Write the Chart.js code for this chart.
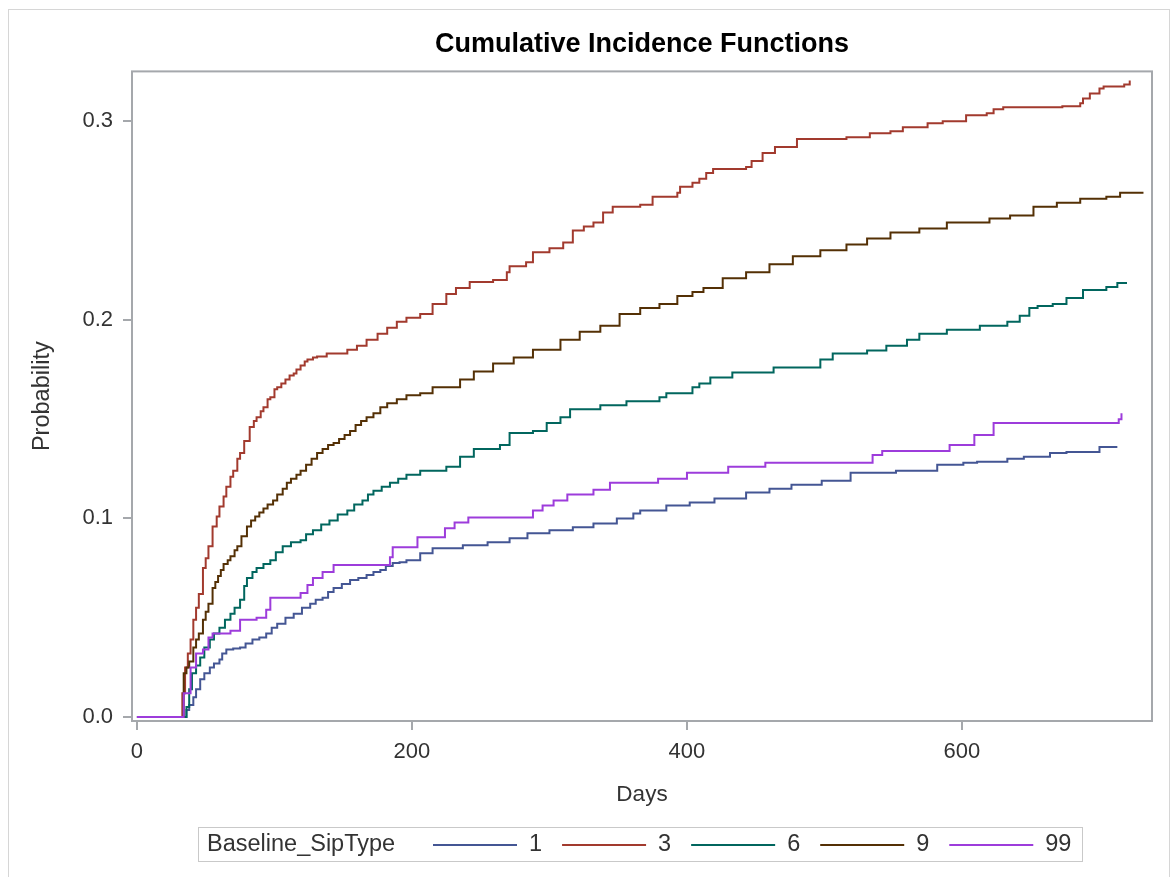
<!DOCTYPE html>
<html>
<head>
<meta charset="utf-8">
<script src="https://cdn.jsdelivr.net/npm/chart.js@4.4.1/dist/chart.umd.min.js"></script>
<style>
  html, body { margin: 0; padding: 0; background: #fff; }
  #wrap { width: 1171px; height: 877px; }
</style>
</head>
<body>
<div id="wrap"><canvas id="cif" width="1171" height="877"></canvas></div>
<script>
// cumulative incidence by Baseline_SipType
const groups = ['1', '3', '6', '9', '99'];
const colors = ['#445694', '#A23A2E', '#01665E', '#543005', '#9D3CDB'];
const xTicks = [0, 200, 400, 600];
const yTicks = [0, 0.1, 0.2, 0.3];

const days1 = [0, 34, 36, 38, 41, 43, 46, 49, 53, 56, 60, 62, 65, 70, 75, 79, 84, 89, 94, 98,
  102, 108, 114, 120, 126, 130, 135, 139, 143, 149, 155, 161, 167, 172, 177, 181, 186, 191, 196, 206,
  215, 237, 255, 271, 284, 300, 317, 332, 349, 361, 366, 385, 402, 420, 443, 460, 476, 498, 519, 552,
  582, 601, 611, 633, 645, 664, 676, 700, 713];
const prob1 = [0, 0, .0035, .006, .010, .014, .019, .022, .025, .027, .029, .032, .034, .0345, .035, .037, .039, .040, .042, .045,
  .047, .050, .052, .055, .057, .059, .060, .063, .065, .067, .069, .070, .0715, .073, .074, .076, .0775, .078, .079, .0825,
  .085, .0865, .088, .090, .0925, .094, .0955, .0975, .100, .1025, .104, .1065, .108, .110, .113, .115, .117, .119, .123, .124,
  .127, .128, .1285, .130, .131, .133, .1335, .136, .136];

const days3 = [0, 31, 33, 35, 37, 39, 41, 43, 45, 48, 50, 52, 55, 58, 60, 63, 65, 68, 70, 73,
  75, 78, 82, 85, 87, 90, 92, 95, 97, 100, 102, 105, 108, 111, 114, 116, 119, 122, 124, 128,
  131, 138, 153, 160, 167, 175, 182, 189, 196, 206, 215, 225, 232, 242, 259, 269, 271, 283, 288, 300,
  310, 317, 325, 332, 339, 346, 366, 375, 393, 395, 404, 409, 414, 419, 443, 447, 455, 464, 473, 480,
  516, 533, 548, 557, 575, 586, 603, 618, 623, 630, 673, 686, 688, 693, 700, 703, 713, 718, 722];
const prob3 = [0, 0, .012, .025, .032, .039, .049, .055, .062, .075, .080, .086, .096, .101, .106, .111, .116, .121, .124, .130,
  .133, .139, .146, .149, .151, .154, .156, .160, .161, .165, .166, .168, .170, .172, .173, .175, .177, .179, .180, .181,
  .1815, .183, .185, .187, .190, .193, .196, .199, .201, .203, .208, .213, .216, .219, .220, .224, .227, .229, .234, .236,
  .239, .245, .247, .249, .254, .257, .258, .262, .264, .267, .269, .271, .274, .276, .277, .280, .284, .287, .287, .291,
  .292, .294, .295, .297, .299, .300, .303, .304, .306, .307, .3075, .309, .3115, .314, .3165, .3175, .3175, .3185, .3205];

const days6 = [0, 34, 36, 38, 40, 43, 46, 49, 53, 56, 60, 64, 68, 71, 75, 78, 80, 84, 87, 92,
  97, 101, 106, 112, 119, 123, 128, 134, 140, 146, 153, 158, 164, 168, 172, 178, 184, 190, 196, 206,
  225, 235, 245, 264, 271, 288, 298, 308, 315, 337, 356, 380, 385, 404, 409, 417, 433, 463, 489, 497,
  506, 531, 545, 560, 569, 589, 613, 633, 642, 649, 655, 666, 676, 688, 703, 705, 713, 720];
const prob6 = [0, 0, .005, .014, .022, .026, .030, .035, .039, .042, .045, .049, .052, .055, .059, .066, .070, .073, .075, .077,
  .079, .083, .086, .088, .089, .092, .094, .097, .099, .102, .104, .107, .109, .112, .114, .116, .118, .120, .122, .124,
  .126, .131, .135, .137, .143, .144, .148, .151, .155, .157, .159, .161, .163, .166, .168, .171, .1735, .176, .176, .180,
  .183, .1845, .187, .190, .193, .195, .197, .199, .202, .206, .207, .208, .211, .215, .215, .2165, .2185, .2185];

const days9 = [0, 31, 34, 36, 38, 41, 43, 45, 48, 50, 52, 55, 57, 59, 61, 63, 66, 68, 71, 73,
  76, 80, 83, 86, 89, 92, 95, 99, 102, 106, 109, 112, 116, 119, 123, 127, 131, 135, 139, 143,
  147, 151, 155, 159, 163, 167, 172, 177, 182, 189, 196, 206, 215, 235, 245, 259, 274, 288, 308, 322,
  337, 351, 366, 380, 393, 404, 412, 426, 443, 460, 477, 497, 516, 531, 548, 569, 589, 606, 620, 635,
  652, 669, 686, 705, 715, 732];
const prob9 = [0, 0, .022, .025, .028, .035, .039, .042, .049, .053, .057, .065, .068, .071, .074, .077, .079, .081, .084, .086,
  .091, .096, .099, .101, .103, .105, .107, .109, .112, .115, .118, .120, .122, .124, .127, .130, .133, .135, .137, .138,
  .140, .142, .144, .147, .149, .151, .153, .156, .158, .160, .162, .163, .166, .170, .174, .178, .181, .185, .190, .194,
  .197, .203, .206, .208, .212, .214, .216, .221, .224, .228, .232, .235, .238, .241, .244, .246, .249, .249, .251, .2525,
  .257, .259, .261, .262, .264, .264];

const days99 = [0, 32, 34, 39, 43, 48, 52, 55, 68, 75, 87, 94, 97, 119, 124, 128, 135, 143, 184, 186,
  204, 224, 231, 241, 288, 295, 303, 313, 332, 344, 379, 400, 430, 457, 535, 542, 591, 609, 623, 714, 716];
const prob99 = [0, 0, .012, .025, .032, .034, .040, .042, .0435, .049, .050, .054, .060, .0625, .0665, .070, .073, .0765, .0805, .0855,
  .0905, .095, .098, .1005, .104, .1065, .109, .112, .1145, .118, .120, .123, .126, .128, .132, .134, .137, .142, .148, .150, .153];

const allDays = [days1, days3, days6, days9, days99];
const allProb = [prob1, prob3, prob6, prob9, prob99];

const FONT = "'Liberation Sans', Arial, sans-serif";
const FRAME = '#a5a8ac';
const legendTitle = 'Baseline_SipType';

const datasets = groups.map((g, i) => ({
  label: g,
  data: allDays[i].map((d, j) => ({ x: d, y: allProb[i][j] })),
  borderColor: colors[i],
  backgroundColor: colors[i],
  borderWidth: 2,
  pointRadius: 0,
  stepped: true,
  fill: false,
  order: groups.length - i
}));

const framePlugin = {
  id: 'frame',
  beforeDraw(chart) {
    const ctx = chart.ctx;
    ctx.save();
    ctx.fillStyle = '#fff';
    ctx.fillRect(0, 0, chart.width, chart.height);
    ctx.strokeStyle = '#d6d6d6';
    ctx.lineWidth = 1;
    ctx.strokeRect(8.5, 9.5, 1161, 900);
    ctx.restore();
  },
  afterDatasetsDraw(chart) {
    const a = chart.chartArea;
    const ctx = chart.ctx;
    ctx.save();
    ctx.strokeStyle = FRAME;
    ctx.lineWidth = 2;
    ctx.strokeRect(a.left, a.top, a.right - a.left, a.bottom - a.top);
    ctx.restore();
  }
};

// SAS style legend: title inline, then line + label per group
const legendPlugin = {
  id: 'sasLegend',
  afterDraw(chart) {
    const ctx = chart.ctx;
    const y = 845;
    ctx.save();
    ctx.strokeStyle = '#c9c9c9';
    ctx.lineWidth = 1;
    ctx.strokeRect(198.5, 827.5, 884, 34);
    ctx.font = '23.5px ' + FONT;
    ctx.fillStyle = '#333';
    ctx.textBaseline = 'middle';
    ctx.fillText(legendTitle, 207, y);
    let x = 433;
    groups.forEach((g, i) => {
      ctx.strokeStyle = colors[i];
      ctx.lineWidth = 2;
      ctx.beginPath();
      ctx.moveTo(x, y);
      ctx.lineTo(x + 84, y);
      ctx.stroke();
      x += 96;
      ctx.fillText(g, x, y);
      x += ctx.measureText(g).width + 20;
    });
    ctx.restore();
  }
};

new Chart(document.getElementById('cif'), {
  type: 'line',
  data: { datasets: datasets },
  options: {
    responsive: false,
    animation: false,
    layout: { padding: { left: 0, right: 19, top: 0, bottom: 0 } },
    plugins: {
      legend: { display: false },
      tooltip: { enabled: false },
      title: {
        display: true,
        fullSize: false,
        text: 'Cumulative Incidence Functions',
        color: '#000',
        font: { family: FONT, size: 27, weight: 'bold' },
        padding: { top: 28, bottom: 11 }
      }
    },
    scales: {
      x: {
        type: 'linear',
        min: -3.6,
        max: 738.2,
        afterFit: s => { s.height = 156; },
        afterBuildTicks: s => { s.ticks = xTicks.map(v => ({ value: v })); },
        ticks: {
          color: '#333',
          font: { family: FONT, size: 22 },
          padding: 9,
          maxRotation: 0,
          callback: v => String(v)
        },
        grid: { drawOnChartArea: false, drawTicks: true, tickLength: 9, color: FRAME, lineWidth: 2 },
        border: { display: false },
        title: {
          display: true,
          text: 'Days',
          color: '#333',
          font: { family: FONT, size: 22.5 },
          padding: { top: 4, bottom: 69 }
        }
      },
      y: {
        type: 'linear',
        min: -0.002,
        max: 0.3251,
        afterFit: s => { s.width = 132; },
        afterBuildTicks: s => { s.ticks = yTicks.map(v => ({ value: v })); },
        ticks: {
          color: '#333',
          font: { family: FONT, size: 22 },
          padding: 10,
          callback: v => v.toFixed(1)
        },
        grid: { drawOnChartArea: false, drawTicks: true, tickLength: 9, color: FRAME, lineWidth: 2 },
        border: { display: false },
        title: {
          display: true,
          text: 'Probability',
          color: '#333',
          font: { family: FONT, size: 23.5 },
          padding: { top: 28, bottom: 4 }
        }
      }
    }
  },
  plugins: [framePlugin, legendPlugin]
});
</script>
</body>
</html>
